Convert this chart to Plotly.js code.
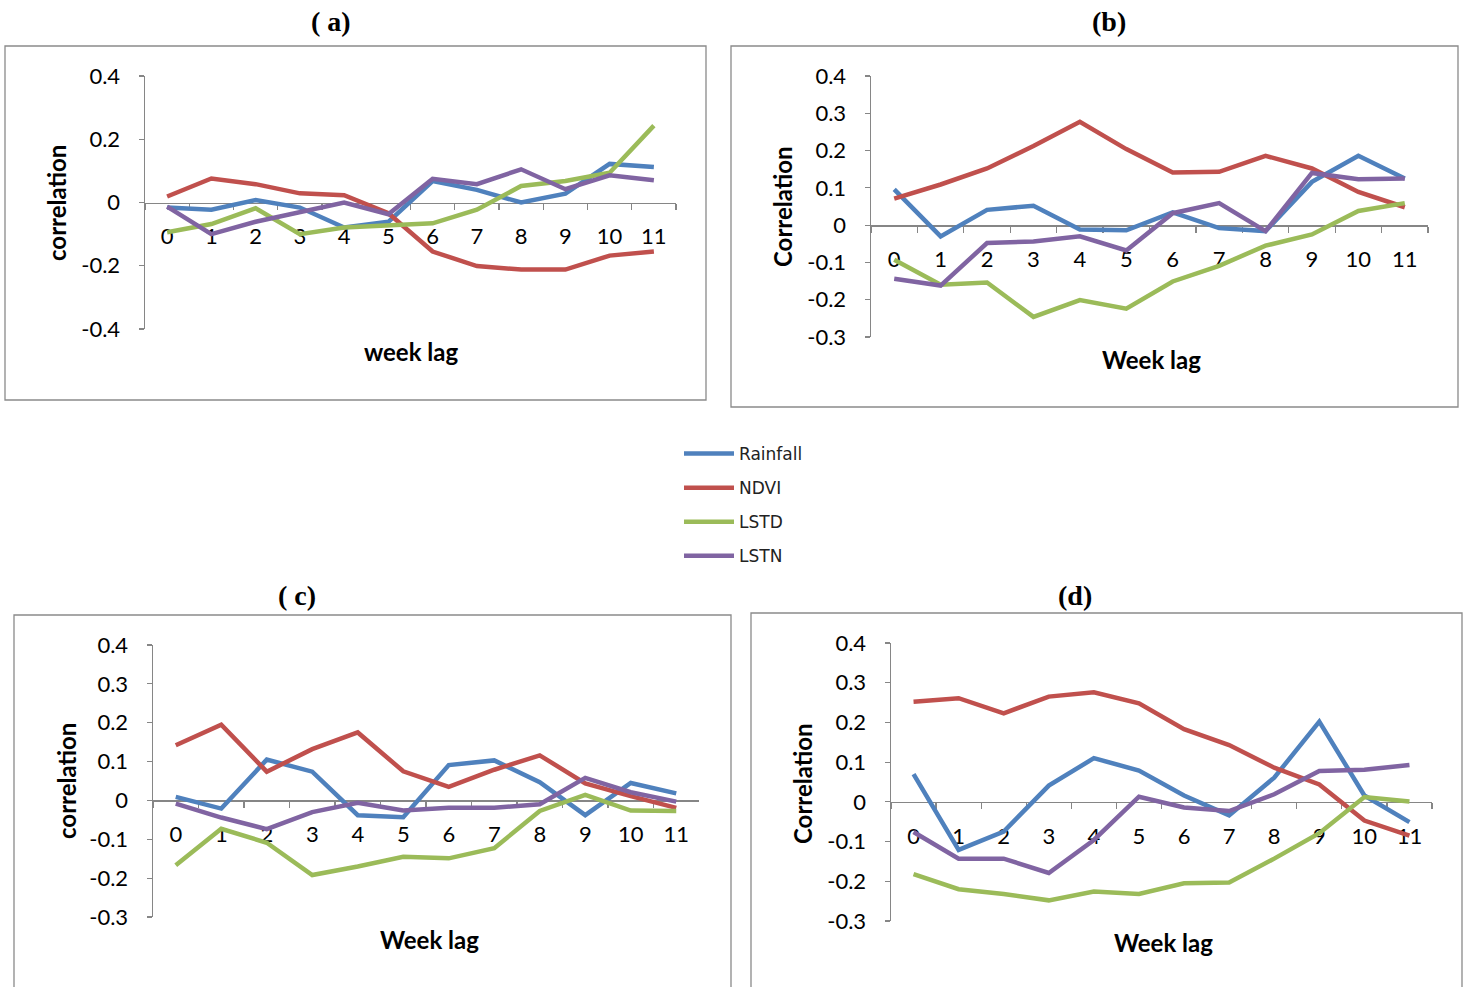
<!DOCTYPE html>
<html>
<head>
<meta charset="utf-8">
<script src="https://cdn.plot.ly/plotly-3.0.1.min.js"></script>
<style>html,body{margin:0;padding:0;background:#fff;}#chart{width:1465px;height:987px;}</style>
</head>
<body>
<div id="chart"></div>
<script>
// ---- data ----
const weekLag = [0,1,2,3,4,5,6,7,8,9,10,11];
const seriesNames = ['Rainfall','NDVI','LSTD','LSTN'];

const rainfallA = [-0.016,-0.023,0.008,-0.016,-0.079,-0.061,0.068,0.040,0.000,0.028,0.122,0.112];
const ndviA     = [0.019,0.076,0.058,0.029,0.023,-0.034,-0.155,-0.201,-0.212,-0.212,-0.168,-0.155];
const lstdA     = [-0.094,-0.068,-0.018,-0.100,-0.079,-0.073,-0.066,-0.023,0.052,0.068,0.094,0.243];
const lstnA     = [-0.013,-0.100,-0.061,-0.029,0.000,-0.037,0.075,0.058,0.105,0.042,0.086,0.070];

const rainfallB = [0.096,-0.030,0.041,0.052,-0.012,-0.014,0.034,-0.008,-0.016,0.116,0.186,0.125];
const ndviB     = [0.071,0.109,0.152,0.212,0.277,0.204,0.141,0.143,0.186,0.152,0.089,0.048];
const lstdB     = [-0.093,-0.160,-0.154,-0.246,-0.201,-0.224,-0.151,-0.109,-0.055,-0.025,0.038,0.059];
const lstnB     = [-0.144,-0.162,-0.048,-0.044,-0.030,-0.068,0.032,0.059,-0.016,0.140,0.123,0.125];

const rainfallC = [0.009,-0.021,0.105,0.074,-0.038,-0.043,0.091,0.103,0.047,-0.038,0.045,0.018];
const ndviC     = [0.142,0.195,0.074,0.132,0.175,0.075,0.035,0.079,0.116,0.044,0.011,-0.019];
const lstdC     = [-0.167,-0.073,-0.109,-0.192,-0.170,-0.145,-0.149,-0.123,-0.027,0.014,-0.026,-0.027];
const lstnC     = [-0.008,-0.044,-0.074,-0.030,-0.006,-0.026,-0.019,-0.019,-0.010,0.058,0.021,-0.003];

const rainfallD = [0.070,-0.121,-0.075,0.041,0.110,0.079,0.016,-0.034,0.061,0.202,0.016,-0.051];
const ndviD     = [0.252,0.261,0.223,0.265,0.276,0.248,0.183,0.143,0.086,0.044,-0.047,-0.085];
const lstdD     = [-0.182,-0.220,-0.232,-0.248,-0.226,-0.232,-0.205,-0.203,-0.143,-0.079,0.012,0.001];
const lstnD     = [-0.076,-0.143,-0.143,-0.179,-0.096,0.013,-0.014,-0.023,0.019,0.078,0.081,0.093];

const panelTitles = ['( a)','(b)','( c)','(d)'];
const yTitles = ['correlation','Correlation','correlation','Correlation'];
const xTitles = ['week lag','Week lag','Week lag','Week lag'];

const yTickValsA = [-0.4,-0.2,0,0.2,0.4];
const yTickTextA = ['-0.4','-0.2','0','0.2','0.4'];
const yTickValsB = [-0.3,-0.2,-0.1,0,0.1,0.2,0.3,0.4];
const yTickTextB = ['-0.3','-0.2','-0.1','0','0.1','0.2','0.3','0.4'];

// ---- layout helpers ----
const W = 1465, H = 987;
const colors = ['#4F81BD','#C0504D','#9BBB59','#8064A2'];
const fx = p => p / W;
const fy = p => 1 - p / H;

const panels = [
  {series:[rainfallA,ndviA,lstdA,lstnA], x0:145, x1:676, yTop:76, yBot:329, range:[-0.4,0.4], tv:yTickValsA, tt:yTickTextA,
   title:[331,21], ytitle:[57,203], xtitle:[411,351], box:[5,46,706,400]},
  {series:[rainfallB,ndviB,lstdB,lstnB], x0:871, x1:1428, yTop:76, yBot:337, range:[-0.3,0.4], tv:yTickValsB, tt:yTickTextB,
   title:[1109,21], ytitle:[782,207], xtitle:[1151,359], box:[731,46,1458,407]},
  {series:[rainfallC,ndviC,lstdC,lstnC], x0:153, x1:699, yTop:645, yBot:917, range:[-0.3,0.4], tv:yTickValsB, tt:yTickTextB,
   title:[297,595], ytitle:[66,781], xtitle:[429,939], box:[14,615,731,995]},
  {series:[rainfallD,ndviD,lstdD,lstnD], x0:891, x1:1432, yTop:643, yBot:921, range:[-0.3,0.4], tv:yTickValsB, tt:yTickTextB,
   title:[1075,595], ytitle:[802,783], xtitle:[1163,942], box:[751,613,1462,995]}
];

const traces = [];
const layout = {
  width: W, height: H,
  margin: {l:0, r:0, t:0, b:0},
  paper_bgcolor: '#ffffff', plot_bgcolor: 'rgba(0,0,0,0)',
  font: {family: 'Lato, "Open Sans", sans-serif', color: '#000'},
  showlegend: true,
  legend: {x: fx(679), y: fy(436), xanchor: 'left', yanchor: 'top',
           font: {size: 17, family: '"DejaVu Sans", Verdana, sans-serif', color: '#222'},
           tracegroupgap: 9, itemwidth: 50, traceorder: 'grouped', bgcolor: 'rgba(0,0,0,0)'},
  shapes: [], annotations: []
};

panels.forEach((p, i) => {
  const n = i + 1;
  const xa = 'xaxis' + (n === 1 ? '' : n);
  const ya = 'yaxis' + (n === 1 ? '' : n);
  const yDom = [fy(p.yBot), fy(p.yTop)];
  const zeroPos = yDom[0] + (0 - p.range[0]) / (p.range[1] - p.range[0]) * (yDom[1] - yDom[0]);
  layout[xa] = {
    domain: [fx(p.x0), fx(p.x1)], type: 'category', range: [-0.5, 11.5], anchor: 'free', position: zeroPos,
    showline: true, linecolor: '#868686', linewidth: 1.5, showgrid: false, zeroline: false,
    ticks: 'outside', tickson: 'boundaries', ticklen: 6, tickcolor: '#868686', tickwidth: 1.2,
    tickfont: {size: 22, family: 'Lato, sans-serif'}, ticklabelstandoff: 14,
    layer: 'below traces', fixedrange: true
  };
  layout[ya] = {
    domain: yDom, range: p.range, anchor: 'x' + (n === 1 ? '' : n),
    showline: true, linecolor: '#868686', linewidth: 1.5, showgrid: false, zeroline: false,
    ticks: 'outside', ticklen: 5, tickcolor: '#868686', tickwidth: 1.2,
    tickvals: p.tv, ticktext: p.tt, tickfont: {size: 22, family: 'Lato, sans-serif'},
    ticklabelstandoff: 14, layer: 'below traces', fixedrange: true
  };
  p.series.forEach((s, k) => {
    traces.push({
      x: weekLag, y: s, type: 'scatter', mode: 'lines', name: seriesNames[k],
      line: {color: colors[k], width: 4.5},
      xaxis: 'x' + (n === 1 ? '' : n), yaxis: 'y' + (n === 1 ? '' : n),
      showlegend: i === 0, legendgroup: seriesNames[k], hoverinfo: 'x+y+name'
    });
  });
  layout.shapes.push({type: 'rect', xref: 'paper', yref: 'paper',
    x0: fx(p.box[0]), x1: fx(p.box[2]), y0: fy(p.box[3]), y1: fy(p.box[1]),
    line: {color: '#8a8a8a', width: 1.3}, fillcolor: 'rgba(0,0,0,0)', layer: 'below'});
  layout.annotations.push({text: '<b>' + panelTitles[i] + '</b>', xref: 'paper', yref: 'paper',
    x: fx(p.title[0]), y: fy(p.title[1]), showarrow: false, xanchor: 'center', yanchor: 'middle',
    font: {size: 28, family: '"Liberation Serif", "Times New Roman", serif', color: '#000'}});
  layout.annotations.push({text: '<b>' + yTitles[i] + '</b>', xref: 'paper', yref: 'paper',
    x: fx(p.ytitle[0]), y: fy(p.ytitle[1]), showarrow: false, textangle: -90,
    xanchor: 'center', yanchor: 'middle', font: {size: 24, family: 'Lato, sans-serif', color: '#000'}});
  layout.annotations.push({text: '<b>' + xTitles[i] + '</b>', xref: 'paper', yref: 'paper',
    x: fx(p.xtitle[0]), y: fy(p.xtitle[1]), showarrow: false, xanchor: 'center', yanchor: 'middle',
    font: {size: 24, family: 'Lato, sans-serif', color: '#000'}});
});

Plotly.newPlot('chart', traces, layout, {displayModeBar: false, staticPlot: true});
</script>
</body>
</html>
